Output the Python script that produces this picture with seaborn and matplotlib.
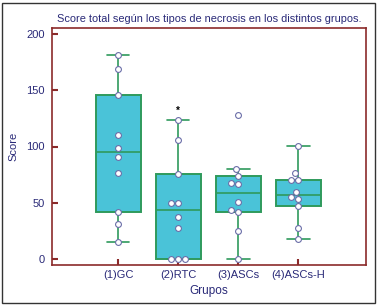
import numpy as np
import pandas as pd
import matplotlib
matplotlib.use("Agg")
import matplotlib as mpl
import matplotlib.pyplot as plt
from matplotlib.patches import Rectangle
import seaborn as sns

# ---------------- data ----------------
groups = ["(1)GC", "(2)RTC", "(3)ASCs", "(4)ASCs-H"]
gc = [181, 169, 145.5, 110.5, 99, 90.7, 76.7, 42, 31.4, 15]
rtc = [123.5, 106, 75.8, 50, 50, 37.6, 28, 0, 0, 0]
ascs = [128.3, 79.7, 73.8, 67.9, 66.8, 50.4, 43.8, 41.8, 24.6, 0]
ascs_h = [100.4, 76.1, 70.5, 70.5, 59.2, 54.8, 53.3, 47.1, 27.2, 18]
star_group = "(2)RTC"
star_value = 131.5
yticks = [0, 50, 100, 150, 200]

title = "Score total según los tipos de necrosis en los distintos grupos."
xlabel = "Grupos"
ylabel = "Score"

df = pd.DataFrame({
    "Grupos": np.repeat(groups, [len(gc), len(rtc), len(ascs), len(ascs_h)]),
    "Score": np.concatenate([gc, rtc, ascs, ascs_h]),
})

# Tukey hinges (box edges at the medians of the lower/upper halves)
_orig_stats = mpl.cbook.boxplot_stats


def tukey_stats(X, whis=1.5, **kw):
    out = _orig_stats(X, whis=whis, **kw)
    for st, x in zip(out, X):
        x = np.sort(np.asarray(x, float))
        n = len(x)
        h = (n + 1) // 2
        q1, q3 = np.median(x[:h]), np.median(x[n - h:])
        iqr = q3 - q1
        lo_f, hi_f = q1 - whis * iqr, q3 + whis * iqr
        inside = x[(x >= lo_f) & (x <= hi_f)]
        st["q1"], st["q3"], st["iqr"] = q1, q3, iqr
        st["whislo"], st["whishi"] = inside.min(), inside.max()
        st["fliers"] = x[(x < lo_f) | (x > hi_f)]
    return out


mpl.cbook.boxplot_stats = tukey_stats

# ---------------- style ----------------
sns.set_style("white")
plt.rcParams["font.family"] = ["Liberation Sans", "DejaVu Sans"]

navy = "#2a2a78"
red = "#8b2a2a"
green = "#2f9a5c"
fill = "#4ac3d8"

fig = plt.figure(figsize=(3.77, 3.05), dpi=100)
ax = fig.add_axes([52 / 377, 1 - 265 / 305, (366 - 52) / 377, (265 - 28) / 305])

sns.boxplot(
    data=df, x="Grupos", y="Score", order=groups, ax=ax,
    width=0.75, color=fill, saturation=1, linecolor=green, linewidth=1.4,
    showfliers=False, whis=1.5, capwidths=0.38,
    boxprops=dict(facecolor=fill, edgecolor=green),
    whiskerprops=dict(color=green, linewidth=1.2),
    capprops=dict(color=green, linewidth=1.2),
    medianprops=dict(color=green, linewidth=1.2),
)
sns.swarmplot(
    data=df, x="Grupos", y="Score", order=groups, ax=ax,
    color="white", edgecolor="#6a6ea8", linewidth=0.8, size=4.2, zorder=5,
)

ax.text(groups.index(star_group), star_value, "*", ha="center", va="center",
        fontsize=7, color="black", fontweight="bold")

ax.set_xlim(-1.1, 4.13)
ax.set_ylim(-5.3, 205.3)
ax.set_yticks(yticks)

for s in ax.spines.values():
    s.set_visible(True)
    s.set_color(red)
    s.set_linewidth(1.2)

ax.tick_params(axis="both", direction="in", length=4, width=1.5, color=red,
               labelcolor=navy, labelsize=8, left=True, bottom=True)
ax.tick_params(axis="y", pad=5)
ax.set_xlabel(xlabel, color=navy, fontsize=8.5, labelpad=4)
ax.set_ylabel(ylabel, color=navy, fontsize=8, labelpad=6)
ax.set_title(title, color=navy, fontsize=7.9, pad=4)

fig.patches.append(Rectangle((2 / 377, 2 / 305), 373 / 377, 300 / 305,
                             transform=fig.transFigure, fill=False,
                             edgecolor="#333333", linewidth=1))

fig.savefig("out.png", dpi=100)
